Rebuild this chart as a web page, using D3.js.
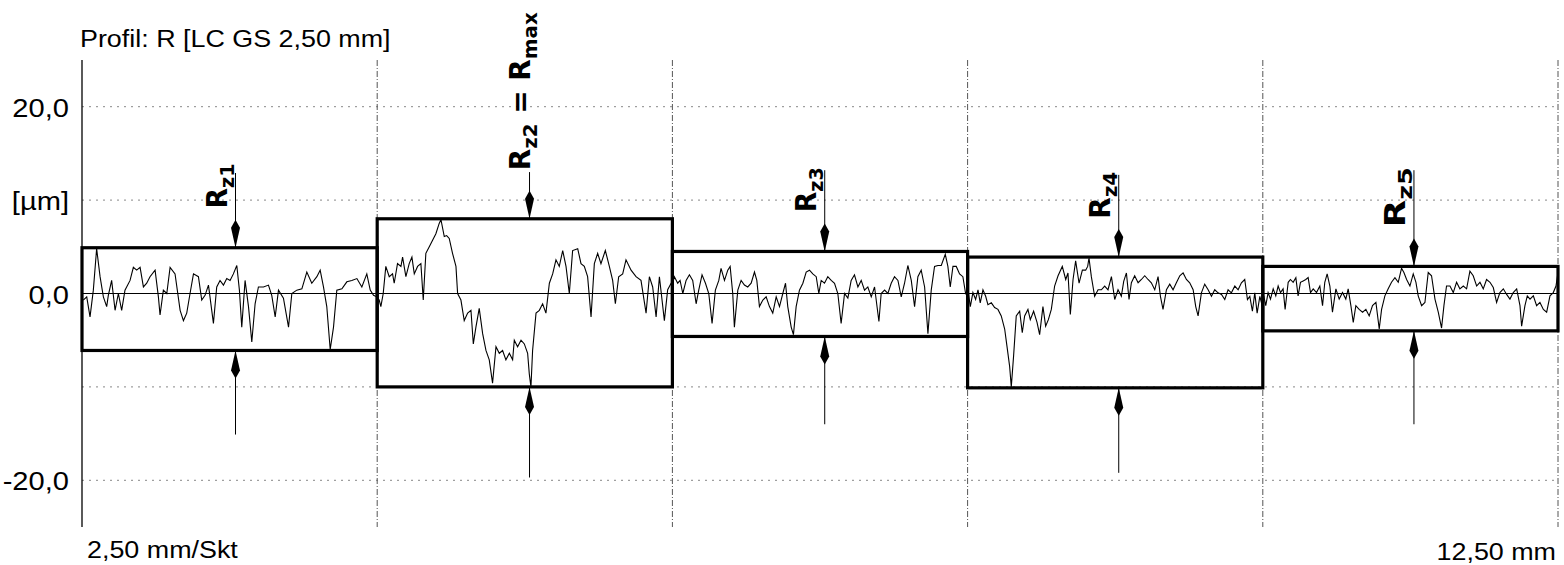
<!DOCTYPE html>
<html>
<head>
<meta charset="utf-8">
<script src="https://d3js.org/d3.v7.min.js"></script>
<style>
  body { margin:0; background:#fff; }
  svg text { font-family: "Liberation Sans", Arial, sans-serif; fill:#000; }
  .hand { font-family: "DejaVu Sans", sans-serif; font-weight: bold; }
</style>
</head>
<body>
<script>
// profile R, [mm, µm], one array per sampling length
var seg1 = [[0.011,-0.7],[0.040,-0.36],[0.068,-2.5],[0.096,0.36],[0.124,4.8],[0.153,1.8],[0.181,-0.36],[0.209,-1.4],[0.223,-0.2],[0.251,1.4],[0.280,-1.8],[0.308,0],[0.336,-1.8],[0.364,0.36],[0.407,1.4],[0.435,2.8],[0.463,2.5],[0.492,2.8],[0.520,0.7],[0.548,1.1],[0.576,1.8],[0.619,2.5],[0.647,-0.36],[0.661,-2.3],[0.689,0.36],[0.718,0],[0.746,2.8],[0.788,2.1],[0.831,-1.8],[0.859,-2.9],[0.887,-2.1],[0.915,0],[0.944,2.1],[0.986,1.8],[1.014,-0.7],[1.042,-0.2],[1.071,0.9],[1.113,-3.2],[1.141,0.7],[1.169,1.4],[1.198,0.9],[1.226,1.6],[1.254,1.4],[1.282,2.1],[1.311,3.0],[1.333,0.36],[1.353,-3.6],[1.381,1.4],[1.410,-1.4],[1.438,-5.2],[1.466,-1.1],[1.494,0.7],[1.537,0.7],[1.579,0.9],[1.607,-0.2],[1.636,-2.5],[1.664,0.36],[1.706,-0.5],[1.749,-3.6],[1.777,0],[1.819,0.36],[1.862,0.5],[1.904,2.3],[1.946,1.1],[1.989,1.8],[2.017,2.5],[2.045,0.7],[2.073,-1.4],[2.102,-6.0],[2.130,-3.6],[2.158,0.36],[2.201,0.5],[2.243,1.25],[2.285,1.4],[2.328,1.6],[2.370,0.7],[2.412,2.1],[2.441,0.36],[2.469,-0.2],[2.497,-0.36]];
var seg2 = [[2.517,-0.7],[2.531,-1.4],[2.551,0],[2.573,2.9],[2.602,1.8],[2.630,2.1],[2.644,1.1],[2.672,3.2],[2.701,2.9],[2.715,3.9],[2.743,1.8],[2.771,3.2],[2.794,3.9],[2.814,2.1],[2.842,2.9],[2.870,3.2],[2.890,-0.7],[2.912,4.3],[2.941,5.0],[2.969,5.7],[2.997,6.4],[3.025,7.5],[3.040,7.9],[3.068,6.1],[3.088,6.2],[3.110,5.9],[3.138,4.3],[3.167,2.9],[3.181,0],[3.209,-0.7],[3.237,-2.9],[3.266,-2.1],[3.294,-1.8],[3.314,-5.4],[3.336,-3.6],[3.364,-1.6],[3.393,-4.3],[3.421,-6.1],[3.449,-7.1],[3.477,-9.6],[3.506,-5.7],[3.534,-6.4],[3.562,-6.1],[3.590,-7.1],[3.619,-6.4],[3.647,-7.1],[3.661,-5.0],[3.689,-5.7],[3.718,-5.0],[3.746,-5.4],[3.774,-6.4],[3.788,-8.6],[3.802,-10.0],[3.816,-6.1],[3.845,-2.1],[3.873,-1.8],[3.901,-1.1],[3.929,-2.1],[3.958,1.1],[3.986,2.1],[4.014,3.6],[4.042,2.9],[4.071,4.6],[4.099,2.9],[4.127,0],[4.155,4.6],[4.198,4.8],[4.226,3.2],[4.254,2.9],[4.282,1.8],[4.311,-2.5],[4.339,3.2],[4.367,4.3],[4.395,3.2],[4.432,4.6],[4.466,2.9],[4.494,1.4],[4.517,-1.1],[4.545,1.8],[4.579,2.1],[4.607,3.6],[4.650,2.5],[4.692,1.8],[4.734,1.4],[4.777,-2.1],[4.805,1.8],[4.833,0.7],[4.862,-2.5],[4.890,1.8],[4.932,-2.9],[4.960,0.4],[4.989,1.1]];
var seg3 = [[5.003,1.1],[5.017,1.8],[5.045,1.1],[5.065,1.4],[5.088,0],[5.116,1.4],[5.144,2.0],[5.172,1.4],[5.201,-1.1],[5.223,0.36],[5.251,2.0],[5.280,1.1],[5.308,0],[5.336,-3.2],[5.364,0.36],[5.393,1.4],[5.412,2.7],[5.441,1.4],[5.469,2.5],[5.489,2.9],[5.511,0],[5.525,-3.6],[5.554,0.36],[5.582,1.4],[5.610,0.9],[5.638,0.7],[5.667,1.1],[5.695,2.3],[5.715,1.4],[5.737,-1.4],[5.766,-0.7],[5.794,-0.36],[5.822,-1.4],[5.850,-2.1],[5.879,-0.36],[5.907,-1.4],[5.935,0],[5.958,1.1],[5.977,-1.4],[6.006,-3.6],[6.025,-4.4],[6.048,-1.4],[6.076,0.36],[6.105,1.1],[6.133,2.3],[6.161,2.5],[6.189,2.1],[6.218,1.8],[6.240,0],[6.260,1.4],[6.288,1.1],[6.316,1.8],[6.345,1.4],[6.373,1.1],[6.401,0],[6.429,-3.2],[6.458,0],[6.486,-0.5],[6.514,1.4],[6.542,2.0],[6.571,0.7],[6.599,1.4],[6.627,0.36],[6.655,0.7],[6.684,-0.36],[6.712,0.7],[6.749,-3.0],[6.768,0],[6.797,0.36],[6.825,0],[6.853,1.1],[6.881,1.8],[6.910,1.4],[6.938,-0.36],[6.966,1.1],[6.994,3.0],[7.023,1.4],[7.051,-1.4],[7.079,1.8],[7.107,2.5],[7.136,0.7],[7.164,-4.3],[7.192,0.36],[7.220,2.9],[7.249,3.0],[7.277,3.0],[7.311,4.2],[7.333,2.9],[7.353,0.7],[7.376,2.9],[7.404,2.9],[7.432,2.1],[7.460,1.8],[7.483,0],[7.500,0.36]];
var seg4 = [[7.503,0.4],[7.523,-1.4],[7.545,0.1],[7.568,-0.64],[7.588,0.4],[7.607,-1.0],[7.630,0.4],[7.653,-0.3],[7.672,-1.2],[7.701,-1.0],[7.729,-1.5],[7.757,-1.7],[7.785,-2.4],[7.814,-3.8],[7.833,-5.6],[7.856,-7.8],[7.870,-10.0],[7.890,-6.6],[7.912,-2.4],[7.941,-1.9],[7.963,-4.2],[7.983,-2.4],[8.011,-1.7],[8.031,-2.8],[8.059,-1.9],[8.088,-3.1],[8.110,-4.4],[8.138,-1.4],[8.161,-3.5],[8.184,-2.8],[8.209,-1.7],[8.237,0.8],[8.266,1.9],[8.302,2.9],[8.331,1.5],[8.350,2.2],[8.370,-2.25],[8.393,1.5],[8.415,3.5],[8.444,1.1],[8.472,2.5],[8.500,2.5],[8.517,2.9],[8.528,3.8],[8.548,1.8],[8.576,-0.3],[8.605,0.4],[8.633,0.4],[8.661,0.8],[8.689,0.4],[8.718,1.8],[8.746,-0.64],[8.774,0.4],[8.802,-0.3],[8.822,1.3],[8.845,2.2],[8.867,-0.64],[8.887,1.15],[8.915,1.9],[8.944,1.15],[8.972,1.5],[9.000,1.9],[9.028,1.5],[9.056,1.15],[9.085,0.4],[9.113,1.8],[9.133,-0.3],[9.155,-1.7],[9.184,0.4],[9.212,1.0],[9.240,0.4],[9.268,1.15],[9.297,1.9],[9.325,2.2],[9.353,1.5],[9.381,1.15],[9.410,0.4],[9.432,-1.4],[9.452,-2.4],[9.480,0.07],[9.508,1.0],[9.537,0.4],[9.565,-0.3],[9.593,0.4],[9.621,0.07],[9.650,-0.1],[9.678,-0.64],[9.706,0.4],[9.734,0.07],[9.763,0.8],[9.791,0.4],[9.819,1.15],[9.847,1.5],[9.870,-0.64],[9.890,-0.3],[9.912,-1.9],[9.932,0.07],[9.952,-2.1],[9.975,-0.3],[9.997,-1.4]];
var seg5 = [[10.008,-0.25],[10.025,-1.3],[10.045,0.1],[10.065,-0.6],[10.088,0.5],[10.110,-0.25],[10.130,0.8],[10.150,0.1],[10.172,0.5],[10.189,-1.7],[10.215,1.2],[10.234,1.5],[10.257,1.2],[10.280,1.7],[10.299,-0.25],[10.319,1.2],[10.342,1.35],[10.364,1.5],[10.384,1.7],[10.404,0.1],[10.427,0.5],[10.455,0.1],[10.483,0.8],[10.506,-1.3],[10.525,1.2],[10.545,2.1],[10.568,0.8],[10.590,-2.0],[10.619,0.5],[10.647,-0.6],[10.675,0.1],[10.703,-0.6],[10.723,0.5],[10.746,-1.3],[10.766,-3.1],[10.788,-1.3],[10.816,-1.7],[10.845,-2.0],[10.873,-1.7],[10.901,-2.4],[10.929,-1.3],[10.958,-0.96],[10.986,-3.8],[11.006,-1.7],[11.034,-0.25],[11.062,0.5],[11.090,1.2],[11.119,1.7],[11.147,1.2],[11.175,2.7],[11.195,2.25],[11.218,1.5],[11.246,0.8],[11.274,2.1],[11.297,1.2],[11.316,-0.25],[11.345,-1.3],[11.373,-0.96],[11.401,2.25],[11.429,1.9],[11.458,-0.6],[11.486,-2.0],[11.514,-3.7],[11.534,-1.3],[11.556,0.8],[11.585,0.8],[11.613,0.1],[11.641,1.2],[11.669,0.5],[11.698,0.8],[11.726,0.5],[11.754,2.4],[11.782,1.9],[11.811,0.8],[11.839,1.2],[11.867,0.5],[11.895,1.5],[11.924,1.2],[11.952,0.64],[11.980,-0.96],[12.008,0.1],[12.037,0.5],[12.065,-0.1],[12.093,-0.6],[12.121,0.1],[12.150,0.5],[12.178,-1.3],[12.192,-3.5],[12.220,-1.3],[12.240,-0.25],[12.263,-0.6],[12.291,-0.25],[12.319,-1.3],[12.347,-0.96],[12.376,-1.7],[12.404,-2.0],[12.432,-0.25],[12.460,0.1],[12.483,0.8],[12.500,2.25]];

// Rz boxes: highest peak / deepest valley per sampling length
var segEdges = [0, 2.5, 5, 7.5, 10, 12.5];
var rzTop = [4.9, 8.0, 4.5, 3.9, 2.9];
var rzBottom = [-6.1, -10.0, -4.6, -10.1, -4.0];

// hand drawn arrows + labels
var arrowMm = [1.30, 3.79, 6.29, 8.78, 11.28];
var arrowTopFrom = [12.9, 13.0, 13.2, 12.7, 13.2];
var arrowBottomTo = [-15.1, -19.7, -14.0, -19.2, -14.0];
var labelFoot = [9.1, 13.2, 8.7, 8.0, 7.1];
var labelLen = [45, 158, 45, 47, 60];

var yTickValues = [20, 10, 0, -10, -20];
var yTickLabels = ["20,0", "[µm]", "0,0", "", "-20,0"];

var title = "Profil: R [LC GS 2,50 mm]";
var xLeftLabel = "2,50 mm/Skt";
var xRightLabel = "12,50 mm";

var w = 1564, h = 565;
var margin = {top: 60, right: 6, bottom: 38, left: 82};

var svg = d3.select("body").append("svg")
  .attr("width", w)
  .attr("height", h);

var x = d3.scaleLinear().domain([0, 12.5]).range([margin.left, w - margin.right]);
var y = d3.scaleLinear().domain([-25, 25]).range([h - margin.bottom, margin.top]);

// stretched printer font
function label(px, py, str, anchor, size) {
  svg.append("g")
    .attr("transform", "translate(" + px + "," + py + ") scale(1.12,1)")
    .append("text")
    .attr("text-anchor", anchor)
    .style("font-size", (size || 24) + "px")
    .text(str);
}

// horizontal grid
svg.selectAll(".hgrid")
  .data(yTickValues.filter(function(d){ return d != 0; }))
  .enter().append("line")
  .attr("class", "hgrid")
  .attr("x1", x(0)).attr("x2", x(12.5))
  .attr("y1", function(d){ return y(d); })
  .attr("y2", function(d){ return y(d); })
  .attr("stroke", "#888")
  .attr("stroke-width", 1)
  .attr("stroke-dasharray", "2,5");

// vertical grid at the sampling length borders
svg.selectAll(".vgrid")
  .data(segEdges.slice(1))
  .enter().append("line")
  .attr("class", "vgrid")
  .attr("x1", function(d){ return x(d); })
  .attr("x2", function(d){ return x(d); })
  .attr("y1", y(25)).attr("y2", y(-25))
  .attr("stroke", "#555")
  .attr("stroke-width", 1)
  .attr("stroke-dasharray", "6,2,1,2");

// y axis line and zero line
svg.append("line")
  .attr("x1", x(0)).attr("x2", x(0))
  .attr("y1", y(25)).attr("y2", y(-25))
  .attr("stroke", "#000").attr("stroke-width", 1.3);
svg.append("line")
  .attr("x1", x(0)).attr("x2", x(12.5))
  .attr("y1", y(0)).attr("y2", y(0))
  .attr("stroke", "#000").attr("stroke-width", 1);

// tick labels
yTickValues.forEach(function(v, i){
  if (yTickLabels[i]) label(69, y(v) + 10, yTickLabels[i], "end", 26);
});
label(80, 47, title, "start");
label(87, 558, xLeftLabel, "start");
label(1556, 560, xRightLabel, "end");

// Rz boxes
svg.selectAll(".rz")
  .data(rzTop)
  .enter().append("rect")
  .attr("class", "rz")
  .attr("x", function(d, i){ return x(segEdges[i]); })
  .attr("width", function(d, i){ return x(segEdges[i + 1]) - x(segEdges[i]); })
  .attr("y", function(d){ return y(d); })
  .attr("height", function(d, i){ return y(rzBottom[i]) - y(d); })
  .attr("fill", "none")
  .attr("stroke", "#000")
  .attr("stroke-width", 3.2);

// profile
var profile = seg1.concat(seg2, seg3, seg4, seg5);
var line = d3.line()
  .x(function(d){ return x(d[0]); })
  .y(function(d){ return y(d[1]); });
svg.append("path")
  .datum(profile)
  .attr("d", line)
  .attr("fill", "none")
  .attr("stroke", "#000")
  .attr("stroke-width", 1.1)
  .attr("stroke-linejoin", "miter");

// arrows
function head(ax, tip, dir) {
  // dir = 1 points down, -1 points up
  return "M" + ax + "," + tip +
    " L" + (ax - 4.5) + "," + (tip - dir * 20) +
    " L" + ax + "," + (tip - dir * 28) +
    " L" + (ax + 4.5) + "," + (tip - dir * 20) + " Z";
}
arrowMm.forEach(function(m, i){
  var ax = x(m);
  svg.append("line")
    .attr("x1", ax).attr("x2", ax)
    .attr("y1", y(arrowTopFrom[i])).attr("y2", y(rzTop[i]))
    .attr("stroke", "#000").attr("stroke-width", 1);
  svg.append("path").attr("d", head(ax, y(rzTop[i]), 1)).attr("fill", "#000");
  svg.append("line")
    .attr("x1", ax).attr("x2", ax)
    .attr("y1", y(rzBottom[i])).attr("y2", y(arrowBottomTo[i]))
    .attr("stroke", "#000").attr("stroke-width", 1);
  svg.append("path").attr("d", head(ax, y(rzBottom[i]), -1)).attr("fill", "#000");

  // handwritten label, rotated
  var lx = i == 1 ? ax : ax - 9;
  var t = svg.append("text")
    .attr("class", "hand")
    .attr("transform", "translate(" + lx + "," + y(labelFoot[i]) + ") rotate(-90)")
    .attr("textLength", labelLen[i])
    .attr("lengthAdjust", "spacingAndGlyphs")
    .style("font-size", "28px");
  t.append("tspan").text("R");
  t.append("tspan").attr("dy", 7).style("font-size", "20px").text("z" + (i + 1));
  if (i == 1) {
    t.append("tspan").attr("dy", -7).text(" = R");
    t.append("tspan").attr("dy", 7).style("font-size", "20px").text("max");
  }
});
</script>
</body>
</html>
